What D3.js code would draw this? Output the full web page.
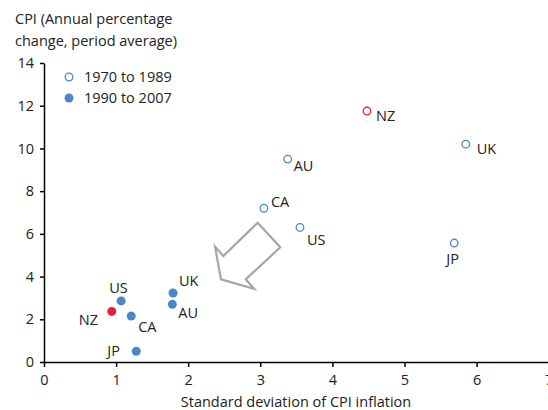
<!DOCTYPE html>
<html>
<head>
<meta charset="utf-8">
<script src="https://cdn.jsdelivr.net/npm/d3@7"></script>
<style>
  body { margin: 0; background: #fff; }
  text { font-family: "Open Sans", "Noto Sans", sans-serif; fill: #222; }
</style>
</head>
<body>
<div id="chart"></div>
<script>
// data
countries = ["NZ", "UK", "AU", "CA", "US", "JP"];
// 1970 to 1989 (open circles)
sd70 = [4.48, 5.85, 3.38, 3.05, 3.55, 5.69];
cpi70 = [11.75, 10.2, 9.5, 7.2, 6.3, 5.57];
// 1990 to 2007 (filled circles)
sd90 = [0.94, 1.79, 1.78, 1.21, 1.07, 1.28];
cpi90 = [2.37, 3.23, 2.70, 2.15, 2.86, 0.50];
xTicks = [0, 1, 2, 3, 4, 5, 6, 7];
yTicks = [0, 2, 4, 6, 8, 10, 12, 14];
// arrow outline, in data units
arrow = [[2.964, 6.52], [2.487, 4.96], [2.372, 5.40], [2.455, 3.87],
         [2.913, 3.43], [2.797, 3.87], [3.277, 5.37]];

blue = "#4a86c8";
red = "#e0203d";
fs = "14.5px";

width = 548;
height = 410;

const svg = d3.select("#chart").append("svg")
  .attr("width", width)
  .attr("height", height);

x = d3.scaleLinear().domain([0, 7]).range([44, 548.7]);
y = d3.scaleLinear().domain([0, 14]).range([362, 63]);

// axes
const xAxis = svg.append("g")
  .attr("transform", "translate(0," + y(0) + ")")
  .call(d3.axisBottom(x).tickValues(xTicks).tickFormat(d3.format("d"))
    .tickSize(5).tickSizeOuter(0).tickPadding(8));
const yAxis = svg.append("g")
  .attr("transform", "translate(" + x(0) + ",0)")
  .call(d3.axisLeft(y).tickValues(yTicks).tickFormat(d3.format("d"))
    .tickSize(4).tickSizeOuter(0).tickPadding(6));

[xAxis, yAxis].forEach(function(a) {
  a.select(".domain").attr("stroke", "#000").attr("stroke-width", 1.5);
  a.selectAll(".tick line").attr("stroke", "#000").attr("stroke-width", 1.5);
  a.selectAll(".tick text").attr("font-size", fs).attr("fill", "#222")
    .attr("font-family", "Open Sans, Noto Sans, sans-serif");
});

// titles
svg.append("text").attr("x", 15).attr("y", 24).attr("font-size", fs)
  .text("CPI (Annual percentage");
svg.append("text").attr("x", 15).attr("y", 46).attr("font-size", fs)
  .text("change, period average)");
svg.append("text").attr("x", 296).attr("y", 407).attr("font-size", fs)
  .attr("text-anchor", "middle")
  .text("Standard deviation of CPI inflation");

// arrow
svg.append("path")
  .datum(arrow)
  .attr("d", d3.line().x(d => x(d[0])).y(d => y(d[1])).curve(d3.curveLinearClosed))
  .attr("fill", "none")
  .attr("stroke", "#a6a6a6")
  .attr("stroke-width", 2.2)
  .attr("stroke-linejoin", "miter");

// label offsets (px) per country
off70 = {NZ: [9, 10], UK: [11, 10], AU: [6, 12], CA: [7, -1], US: [7, 18], JP: [-8, 21]};
off90 = {NZ: [-33, 14], UK: [6, -7], AU: [6, 14], CA: [7, 16], US: [-12, -8], JP: [-29, 5]};

// 1970-1989 open circles
svg.selectAll("circle.p70")
  .data(countries)
  .join("circle")
  .attr("class", "p70")
  .attr("cx", (d, i) => x(sd70[i]))
  .attr("cy", (d, i) => y(cpi70[i]))
  .attr("r", 3.8)
  .attr("fill", "#fff")
  .attr("stroke", d => d == "NZ" ? red : blue)
  .attr("stroke-width", 1.3);

svg.selectAll("text.l70")
  .data(countries)
  .join("text")
  .attr("class", "l70")
  .attr("x", (d, i) => x(sd70[i]) + off70[d][0])
  .attr("y", (d, i) => y(cpi70[i]) + off70[d][1])
  .attr("font-size", fs)
  .text(d => d);

// 1990-2007 filled circles
svg.selectAll("circle.p90")
  .data(countries)
  .join("circle")
  .attr("class", "p90")
  .attr("cx", (d, i) => x(sd90[i]))
  .attr("cy", (d, i) => y(cpi90[i]))
  .attr("r", 4.5)
  .attr("fill", d => d == "NZ" ? red : blue);

svg.selectAll("text.l90")
  .data(countries)
  .join("text")
  .attr("class", "l90")
  .attr("x", (d, i) => x(sd90[i]) + off90[d][0])
  .attr("y", (d, i) => y(cpi90[i]) + off90[d][1])
  .attr("font-size", fs)
  .text(d => d);

// legend
legend = ["1970 to 1989", "1990 to 2007"];
svg.selectAll("circle.leg")
  .data(legend)
  .join("circle")
  .attr("class", "leg")
  .attr("cx", 69)
  .attr("cy", (d, i) => 77 + i * 21)
  .attr("r", (d, i) => i == 0 ? 3.8 : 4.5)
  .attr("fill", (d, i) => i == 0 ? "#fff" : blue)
  .attr("stroke", (d, i) => i == 0 ? blue : "none")
  .attr("stroke-width", 1.3);
svg.selectAll("text.leg")
  .data(legend)
  .join("text")
  .attr("class", "leg")
  .attr("x", 84)
  .attr("y", (d, i) => 82 + i * 21)
  .attr("font-size", fs)
  .text(d => d);
</script>
</body>
</html>
